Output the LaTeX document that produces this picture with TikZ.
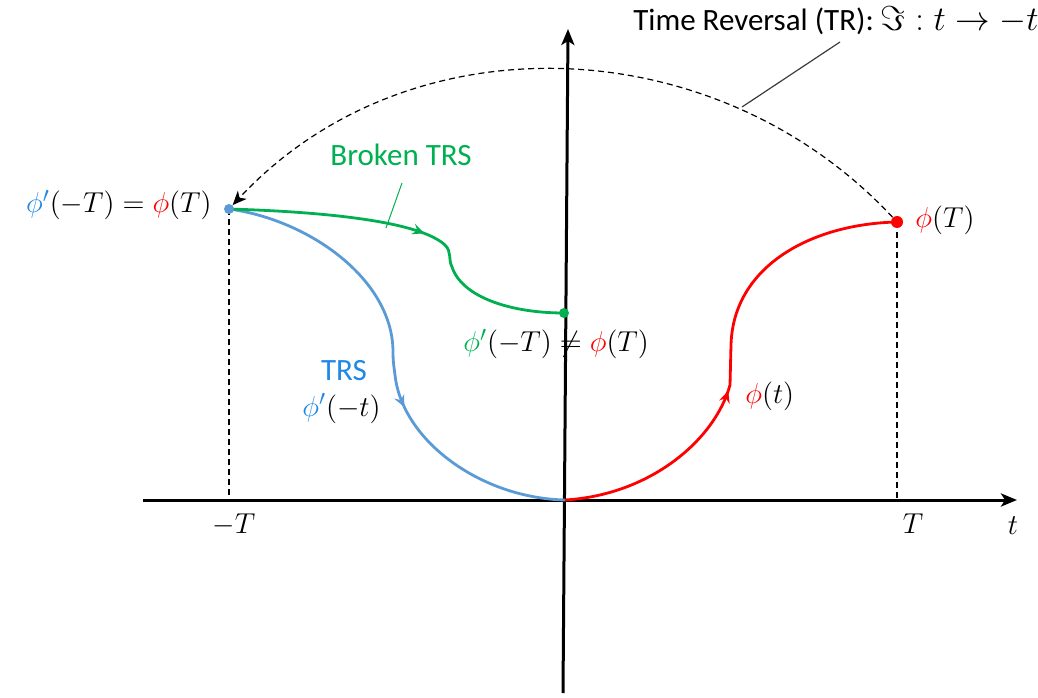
\documentclass[tikz,border=0pt]{standalone}
\usepackage{fontspec}
\usepackage{amsmath,amssymb}
\setmainfont{Carlito}
\usetikzlibrary{arrows.meta,decorations.markings}
\definecolor{cblue}{RGB}{91,155,213}
\definecolor{tblue}{RGB}{31,137,229}
\definecolor{cgreen}{RGB}{0,176,80}
\definecolor{cred}{RGB}{255,0,0}
\definecolor{cgray}{RGB}{60,60,60}
\begin{document}
\begin{tikzpicture}[x=0.5pt,y=0.5pt,
 lbl/.style={inner sep=0pt, font=\fontsize{15.5}{18}\selectfont},
 mlbl/.style={inner sep=0pt, font=\fontsize{15.6}{19}\selectfont},
 axis/.style={line width=1.5pt, -{Stealth[length=8pt,width=6.5pt,inset=2pt]}},
 guide/.style={dash pattern=on 3pt off 2pt, line width=0.6pt},
 curve/.style={line width=1.4pt},
 dot/.style={circle, inner sep=0pt, minimum size=5pt},
 callout/.style={line width=0.5pt},
 midarrow/.style={postaction={decorate}, decoration={markings, mark=at position #1 with {\arrow{Stealth[length=6pt,width=5.5pt,inset=2.2pt]}}}},
]
\useasboundingbox (0,0) rectangle (1038,697);
% key points
\coordinate (xl) at (143,197);
\coordinate (xr) at (1017,197);
\coordinate (yb) at (563,4);
\coordinate (yt) at (568,668);
\coordinate (O) at (565,197);
\coordinate (b) at (229,488);
\coordinate (r) at (897,475);
\coordinate (g) at (564,384);
\coordinate (mT) at (229,197);
\coordinate (pT) at (897,197);
% axes
\draw[axis] (xl) -- (xr);
\draw[axis] (yb) -- (yt);
% guides
\draw[guide] (b) -- (mT);
\draw[guide] (r) -- (pT);
% curves
\draw[curve, cblue, midarrow=0.6] (b) .. controls (310,477) and (393,417) .. (393,345) .. controls (393,335) and (394,330) .. (395,322) .. controls (402,257) and (480,199) .. (O);
\draw[curve, cred, midarrow=0.43] (O) .. controls (650,202) and (715,257) .. (730,312) -- (731,352) .. controls (733,430) and (810,473) .. (r);
\draw[curve, cgreen, midarrow=0.53] (b) .. controls (330,485) and (420,475) .. (445,452) .. controls (452,445) and (448,438) .. (452,430) .. controls (462,400) and (510,384) .. (g);
% dots
\node[dot, fill=cblue] (B) at (b) {};
\node[dot, fill=cred, minimum size=6pt] (R) at (r) {};
\node[dot, fill=cgreen] (G) at (g) {};
% time reversal arc
\draw[guide, -{Stealth[length=7pt,width=6pt,inset=2pt]}] (R) to[out=133, in=47] (B);
% labels
\node[lbl, anchor=base] (tr) at (836,666) {Time Reversal (TR): \fontsize{16.5}{19}\selectfont$\Im : t \to -t$};
\node[lbl, anchor=base, text=cgreen] (brk) at (401,531) {Broken TRS};
\node[mlbl, anchor=base east] (lft) at (212,484) {$\textcolor{tblue}{\phi'}(-T) = \textcolor{cred}{\phi}(T)$};
\node[mlbl, anchor=base west] (rl) at (915,469) {$\textcolor{cred}{\phi}(T)$};
\node[mlbl, anchor=base west] (gl) at (463,345) {$\textcolor{cgreen}{\phi'}(-T) \neq \textcolor{cred}{\phi}(T)$};
\node[lbl, anchor=base, text=tblue] (trs) at (344,317) {TRS};
\node[mlbl, anchor=base west] (ptl) at (302,281) {$\textcolor{tblue}{\phi'}(-t)$};
\node[mlbl, anchor=base west] (phl) at (745,294) {$\textcolor{cred}{\phi}(t)$};
\node[mlbl, anchor=base] (mTl) at (234,164) {$-T$};
\node[mlbl, anchor=base] (pTl) at (913,164) {$T$};
\node[mlbl, anchor=base] (tl) at (1013,163) {$t$};
% callouts
\coordinate (brkend) at (386,469);
\coordinate (brkstart) at (402,514);
\draw[callout, cgreen] (brkstart) -- (brkend);
\coordinate (trstart) at (840,655);
\coordinate (trend) at (742,590);
\draw[callout, cgray, line width=0.6pt] (trstart) -- (trend);
\end{tikzpicture}
\end{document}
